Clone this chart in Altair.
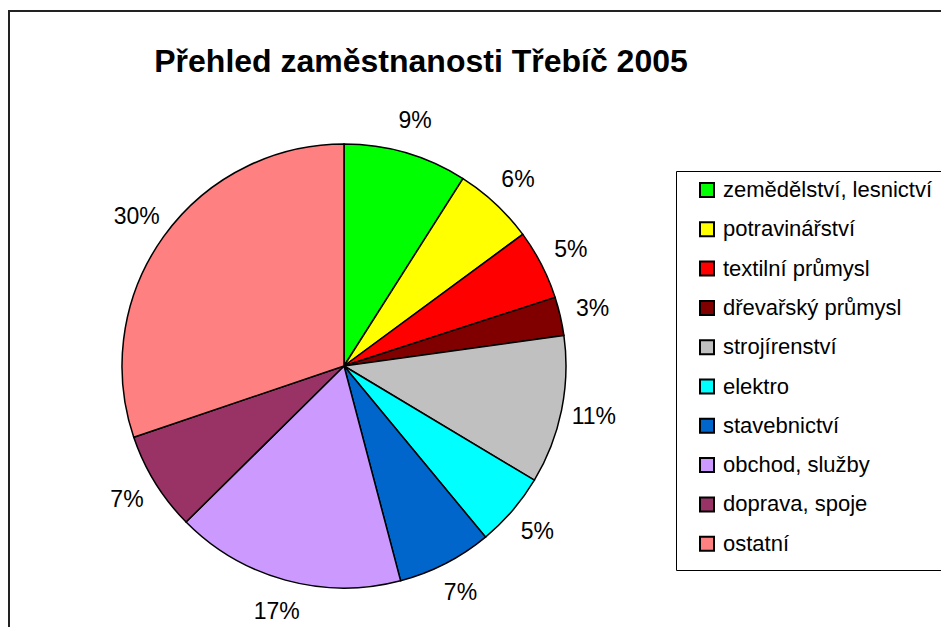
import altair as alt
import pandas as pd

categories = ["zemědělství, lesnictví", "potravinářství", "textilní průmysl",
              "dřevařský průmysl", "strojírenství", "elektro", "stavebnictví",
              "obchod, služby", "doprava, spoje", "ostatní"]
values = [9.0, 5.9, 5.1, 2.8, 10.8, 5.4, 6.9, 16.7, 7.2, 30.2]
labels = ["9%", "6%", "5%", "3%", "11%", "5%", "7%", "17%", "7%", "30%"]
colors = ["#00FF00", "#FFFF00", "#FF0000", "#800000", "#C0C0C0",
          "#00FFFF", "#0066CC", "#CC99FF", "#993366", "#FF8080"]
title_text = "Přehled zaměstnanosti Třebíč 2005"

df = pd.DataFrame({"cat": categories, "value": values, "label": labels,
                   "idx": list(range(len(categories)))})

FONT = "Liberation Sans"
CX, CY = 336, 358

frame = alt.Chart(pd.DataFrame({"a": [0]})).mark_rect(
    fill="white", stroke="#222222", strokeWidth=2
).encode(x=alt.value(1), x2=alt.value(1100), y=alt.value(3), y2=alt.value(1100))

legend_box = alt.Chart(pd.DataFrame({"a": [0]})).mark_rect(
    fill="white", stroke="#000000", strokeWidth=1
).encode(x=alt.value(668.5), x2=alt.value(1100), y=alt.value(163.5), y2=alt.value(562.5))

title = alt.Chart(pd.DataFrame({"t": [title_text]})).mark_text(
    font=FONT, fontSize=32, fontWeight="bold", color="black",
    align="center", baseline="alphabetic"
).encode(x=alt.value(413), y=alt.value(64), text="t:N")

base = alt.Chart(df).encode(
    theta=alt.Theta("value:Q", stack=True),
    order=alt.Order("idx:Q"),
)

pie = base.mark_arc(stroke="black", strokeWidth=1.5, radius=222).encode(
    x=alt.value(CX), y=alt.value(CY),
    color=alt.Color("cat:N", sort=categories,
                    scale=alt.Scale(domain=categories, range=colors),
                    legend=alt.Legend(
                        title=None, orient="none", legendX=688, legendY=171,
                        symbolType="square", symbolSize=196,
                        symbolStrokeColor="black", symbolStrokeWidth=2,
                        symbolOpacity=1,
                        labelFont=FONT, labelFontSize=22, labelColor="black",
                        labelOffset=5, labelLimit=500, rowPadding=17.3,
                        padding=0)),
)

text = base.mark_text(font=FONT, fontSize=23, color="black", radius=255,
                      align="center", baseline="middle").encode(
    x=alt.value(CX), y=alt.value(CY),
    detail="cat:N",
    text="label:N",
)

chart = alt.layer(frame, legend_box, title, pie, text).properties(
    width=933, height=619, padding=0, autosize=alt.AutoSizeParams(type="none"),
    background="white"
).configure_view(stroke=None)

chart.save("out.html", embed_options={"renderer": "svg", "actions": False})
